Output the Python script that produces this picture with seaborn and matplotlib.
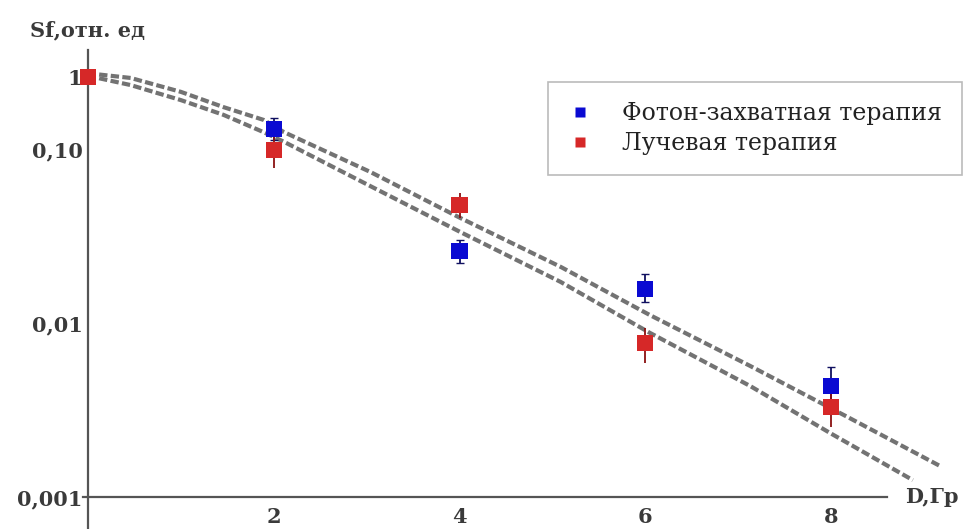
import numpy as np
import pandas as pd
import matplotlib
matplotlib.use("Agg")
import matplotlib.pyplot as plt
import seaborn as sns
from matplotlib.ticker import FixedLocator, NullFormatter, LogLocator, FixedFormatter
from matplotlib.lines import Line2D

# ---- data ----
dose = [0, 2, 4, 6, 8]
photon_sf = [0.26, 0.130, 0.0259, 0.0157, 0.00434]
photon_lo = [0.25, 0.112, 0.0221, 0.0132, 0.00360]
photon_hi = [0.27, 0.151, 0.0300, 0.0191, 0.00559]
radio_sf = [0.26, 0.0987, 0.0477, 0.00767, 0.00329]
radio_lo = [0.25, 0.078, 0.0401, 0.00589, 0.00252]
radio_hi = [0.27, 0.118, 0.0558, 0.00935, 0.00400]

fit_upper_d = [0.12, 0.46, 1.0, 1.46, 1.89, 2.11, 3.04, 4.01, 5.09, 6.05, 7.13, 8.2, 9.19]
fit_upper_sf = [0.268, 0.256, 0.213, 0.174, 0.147, 0.125, 0.0738, 0.0401, 0.0210, 0.0111,
                0.00566, 0.00284, 0.00149]
fit_lower_d = [0.12, 0.46, 1.0, 1.46, 1.89, 2.11, 3.04, 4.01, 5.09, 6.05, 7.13, 7.99, 8.88]
fit_lower_sf = [0.255, 0.233, 0.191, 0.157, 0.125, 0.110, 0.0612, 0.0333, 0.0172, 0.00877,
                0.00434, 0.00233, 0.00125]

series_names = ["Фотон-захватная терапия", "Лучевая терапия"]
ytick_vals = [0.001, 0.01, 0.1, 0.26]
ytick_labels = ["0,001", "0,01", "0,10", "1"]
xtick_vals = [2, 4, 6, 8]

BLUE = "#0a0ad2"
RED = "#d62828"
GRAY = "#737373"
TXT = "#3a3a3a"

sns.set_style("white")
plt.rcParams["font.family"] = ["DejaVu Serif"]

W, H = 963, 529
fig = plt.figure(figsize=(W / 100, H / 100), dpi=100)
ax_left_px, ax_top_px = 80, 50
ax = fig.add_axes([ax_left_px / W, 0, (W - ax_left_px) / W, (H - ax_top_px) / H])

ax.set_yscale("log")
ax.set_xlim(-0.086, 9.42)
ax.set_ylim(10 ** -3.184, 10 ** -0.431)

# fit curves
df_u = pd.DataFrame({"D": fit_upper_d, "Sf": fit_upper_sf})
df_l = pd.DataFrame({"D": fit_lower_d, "Sf": fit_lower_sf})
for df in (df_u, df_l):
    sns.lineplot(data=df, x="D", y="Sf", ax=ax, color=GRAY, lw=3.0,
                 linestyle=(0, (2.0, 0.8)), sort=False, clip_on=False, zorder=2)

# error bars
ax.errorbar(dose, photon_sf,
            yerr=[np.array(photon_sf) - np.array(photon_lo), np.array(photon_hi) - np.array(photon_sf)],
            fmt="none", ecolor="#101060", elinewidth=1.3, capsize=3, zorder=3)
ax.errorbar(dose, radio_sf,
            yerr=[np.array(radio_sf) - np.array(radio_lo), np.array(radio_hi) - np.array(radio_sf)],
            fmt="none", ecolor="#8a1010", elinewidth=1.3, capsize=0, zorder=3)

pts = pd.DataFrame({
    "D": dose + dose,
    "Sf": photon_sf + radio_sf,
    "group": [series_names[0]] * len(dose) + [series_names[1]] * len(dose),
})
sns.scatterplot(data=pts, x="D", y="Sf", hue="group", palette=[BLUE, RED],
                marker="s", s=135, edgecolor="none", ax=ax, legend=False, zorder=4)

# axes styling (Mathematica-like crossing axes)
for s in ("top", "right"):
    ax.spines[s].set_visible(False)
ax.spines["left"].set_position(("data", 0))
ax.spines["bottom"].set_position(("data", 0.001))
ax.spines["bottom"].set_bounds(-0.05, 8.6)
ax.spines["left"].set_bounds(10 ** -3.184, 10 ** -0.431)
for s in ("left", "bottom"):
    ax.spines[s].set_color("#555555")
    ax.spines[s].set_linewidth(1.6)

ax.xaxis.set_major_locator(FixedLocator(xtick_vals))
ax.xaxis.set_minor_locator(FixedLocator([0.5, 1, 1.5, 2.5, 3, 3.5, 4.5, 5, 5.5, 6.5, 7, 7.5, 8.5]))
ax.yaxis.set_major_locator(FixedLocator(ytick_vals))
ax.yaxis.set_major_formatter(FixedFormatter(ytick_labels))
ax.yaxis.set_minor_locator(LogLocator(base=10, subs=np.arange(2, 10), numticks=20))
ax.yaxis.set_minor_formatter(NullFormatter())

ax.tick_params(axis="both", which="major", direction="in", length=5, width=1, color="#777777",
               labelsize=15, labelcolor=TXT)
ax.tick_params(axis="both", which="minor", direction="in", length=3, width=0.8, color="#999999")
ax.tick_params(axis="y", which="major", pad=4)
ax.tick_params(axis="x", which="major", pad=7)
for lab in ax.get_xticklabels() + ax.get_yticklabels():
    lab.set_fontweight("bold")
ax.set_xlabel("")
ax.set_ylabel("")

fig.text(30 / W, 1 - 30 / H, "Sf,отн. ед", fontsize=15, fontweight="bold", color=TXT,
         ha="left", va="center")
fig.text(905 / W, 1 - 497 / H, "D,Гр", fontsize=15, fontweight="bold", color=TXT,
         ha="left", va="center")

handles = [Line2D([], [], marker="s", color="none", markerfacecolor=BLUE, markeredgecolor="none", markersize=7),
           Line2D([], [], marker="s", color="none", markerfacecolor=RED, markeredgecolor="none", markersize=7)]
leg = ax.legend(handles, series_names, loc="upper right", bbox_to_anchor=(962 / W, 1 - 82 / H),
                bbox_transform=fig.transFigure, borderaxespad=0, frameon=True, fancybox=False,
                prop={"family": "DejaVu Serif", "size": 17}, handlelength=1.0, handletextpad=1.3,
                borderpad=0.85, labelspacing=0.3, labelcolor="#222222")
leg.get_frame().set_edgecolor("#aaaaaa")
leg.get_frame().set_linewidth(1.2)

fig.savefig("out.png", dpi=100)
